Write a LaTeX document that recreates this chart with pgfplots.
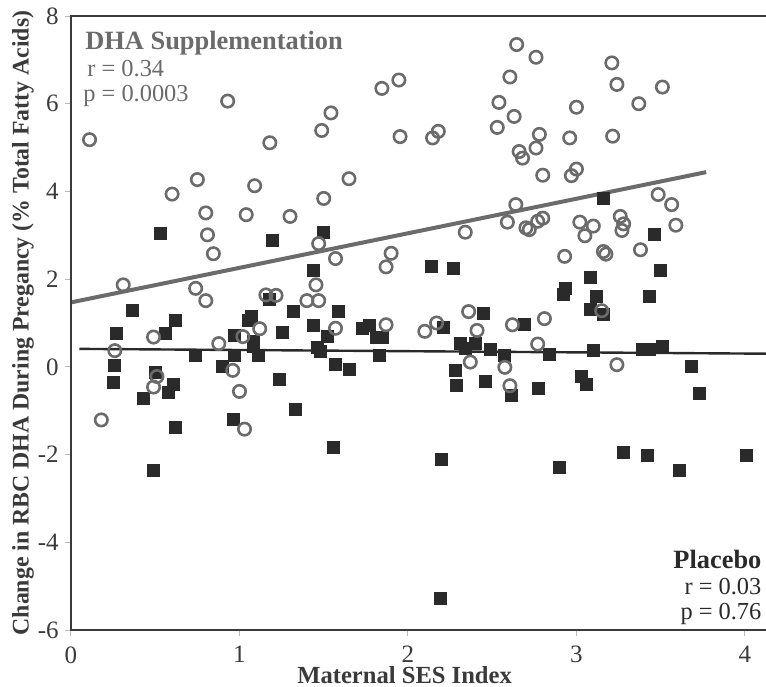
\documentclass[border=0pt]{standalone}
\usepackage{fontspec}
\setmainfont{Liberation Serif}
\usepackage{pgfplots}
\pgfplotsset{compat=1.18}

\definecolor{dhagray}{HTML}{6B6B6B}
\definecolor{plcblack}{HTML}{2A2A2A}
\definecolor{axisgray}{HTML}{3A3A3A}

% DHA supplementation group (open circles)
\pgfplotstableread{
x y
0.11 5.18
0.93 6.06
1.18 5.11
0.75 4.27
0.60 3.94
1.09 4.13
0.80 3.51
1.04 3.47
1.30 3.43
0.81 3.01
0.845 2.58
0.31 1.87
0.74 1.79
0.80 1.51
1.157 1.64
1.217 1.63
1.12 0.87
1.02 0.69
0.49 0.68
0.877 0.53
0.26 0.37
0.96 -0.08
0.51 -0.22
0.49 -0.46
1.00 -0.56
0.18 -1.21
1.03 -1.42
1.543 5.79
1.488 5.39
1.65 4.29
1.50 3.84
1.47 2.81
1.57 2.47
1.454 1.87
1.40 1.51
1.47 1.51
1.57 0.88
1.845 6.35
1.946 6.54
1.953 5.25
1.90 2.59
1.87 2.28
1.87 0.96
2.146 5.22
2.18 5.37
2.10 0.81
2.17 1.00
2.36 1.26
2.41 0.83
2.37 0.11
2.34 3.07
2.645 7.35
2.605 6.61
2.54 6.03
2.63 5.71
2.53 5.46
2.76 7.06
2.78 5.30
2.76 4.99
2.66 4.91
2.68 4.76
2.80 4.37
2.64 3.70
2.59 3.30
2.70 3.17
2.72 3.13
2.77 3.32
2.80 3.39
2.62 0.96
2.81 1.10
2.77 0.52
2.575 -0.01
2.605 -0.43
3.21 6.93
3.24 6.44
3.51 6.38
3.37 6.00
3.00 5.92
2.96 5.22
3.215 5.26
3.00 4.51
2.97 4.36
3.485 3.93
3.565 3.70
3.02 3.30
3.10 3.21
3.05 2.99
3.26 3.43
3.28 3.26
3.27 3.11
3.59 3.23
3.38 2.67
2.93 2.52
3.16 2.63
3.175 2.57
3.15 1.28
3.24 0.05
}\dhatable

% placebo group (filled squares)
\pgfplotstableread{
x y
0.53 3.04
1.197 2.88
0.366 1.29
0.62 1.07
0.27 0.77
0.56 0.77
1.18 1.53
1.32 1.26
1.07 1.16
1.05 1.07
1.256 0.78
0.967 0.71
1.08 0.58
1.08 0.46
1.11 0.25
0.97 0.25
0.74 0.27
0.26 0.03
0.90 0.01
0.50 -0.12
0.25 -0.36
0.61 -0.41
0.58 -0.59
0.43 -0.73
1.234 -0.28
1.33 -0.98
0.963 -1.19
0.62 -1.38
0.49 -2.37
1.50 3.07
1.44 2.21
2.14 2.29
2.27 2.25
1.59 1.26
1.44 0.94
1.52 0.69
1.73 0.88
1.77 0.94
1.81 0.68
1.85 0.68
2.21 0.90
2.45 1.21
1.46 0.45
1.48 0.35
1.83 0.26
1.57 0.06
1.65 -0.05
2.31 0.53
2.34 0.43
2.40 0.53
2.49 0.39
2.575 0.25
2.28 -0.07
2.29 -0.43
2.46 -0.33
2.615 -0.65
1.56 -1.84
2.20 -2.10
2.19 -5.28
3.16 3.84
3.46 3.03
3.50 2.20
3.08 2.04
2.935 1.78
2.92 1.66
3.12 1.60
3.43 1.60
3.08 1.32
3.16 1.19
2.69 0.97
2.84 0.29
3.10 0.37
3.39 0.40
3.43 0.40
3.51 0.46
3.68 0.01
3.03 -0.22
3.06 -0.39
2.775 -0.50
3.73 -0.60
2.90 -2.29
3.28 -1.96
3.42 -2.01
3.61 -2.37
4.01 -2.03
}\plctable

\begin{document}
\begin{tikzpicture}
\begin{axis}[
  scale only axis, width=347.5pt, height=307pt,
  xmin=0, xmax=4.125, ymin=-6, ymax=8,
  xtick={0,1,2,3,4}, ytick={-6,-4,-2,0,2,4,6,8},
  xtick pos=lower, ytick pos=left, tick align=outside,
  major tick length=3pt,
  tick style={gray!55, line width=0.5pt},
  axis line style={draw=none},
  /pgf/number format/assume math mode=true,
  ticklabel style={font=\fontsize{12.5}{14}\selectfont, text=axisgray},
  xticklabel style={anchor=north, inner sep=0pt, yshift=-5pt},
  yticklabel style={anchor=east, inner sep=0pt, xshift=-3pt},
  xlabel={Maternal SES Index},
  ylabel={Change in RBC DHA During Pregancy (\% Total Fatty Acids)},
  every axis x label/.style={at={([yshift=-26.5pt]rel axis cs:0.48,0)}, anchor=base,
    font=\bfseries\fontsize{12.3}{14}\selectfont, text=axisgray},
  every axis y label/.style={at={([xshift=-24pt]rel axis cs:0,0.5)}, rotate=90, anchor=center,
    font=\bfseries\fontsize{11.9}{14}\selectfont, text=axisgray},
  clip=false,
]
\coordinate (SW) at (rel axis cs:0,0);
\coordinate (NE) at (rel axis cs:1,1);

% regression lines
\addplot[plcblack, line width=1.2pt] coordinates {(0.05,0.41) (4.125,0.30)};
\addplot[dhagray, line width=2pt] coordinates {(0,1.47) (3.77,4.44)};

\addplot[only marks, mark=square*, mark size=3pt, color=plcblack] table[x=x,y=y]{\plctable};
\addplot[only marks, mark=o, mark size=3.1pt, mark options={line width=1.3pt, draw=dhagray}] table[x=x,y=y]{\dhatable};

\draw[axisgray, line width=1pt] (rel axis cs:1,1) -- (rel axis cs:0,1) -- (rel axis cs:0,0) -- (rel axis cs:1,0);

\node[anchor=base west, inner sep=0pt, text=dhagray, font=\bfseries\fontsize{13.2}{15}\selectfont] at (axis cs:0.083,7.24) {DHA Supplementation};
\node[anchor=base west, inner sep=0pt, text=dhagray, font=\fontsize{12.2}{14}\selectfont] at (axis cs:0.095,6.62) {r = 0.34};
\node[anchor=base west, inner sep=0pt, text=dhagray, font=\fontsize{12.2}{14}\selectfont] at (axis cs:0.071,6.05) {p = 0.0003};

\node[anchor=base east, inner sep=0pt, text=plcblack, font=\bfseries\fontsize{13.2}{15}\selectfont] at (axis cs:4.10,-4.59) {Placebo};
\node[anchor=base east, inner sep=0pt, text=plcblack, font=\fontsize{12.2}{14}\selectfont] at (axis cs:4.10,-5.18) {r = 0.03};
\node[anchor=base east, inner sep=0pt, text=plcblack, font=\fontsize{12.2}{14}\selectfont] at (axis cs:4.10,-5.75) {p = 0.76};
\end{axis}
\pgfresetboundingbox
\path ([xshift=-35.5pt,yshift=-28pt]SW) rectangle ([yshift=8pt]NE);
\end{tikzpicture}
\end{document}
